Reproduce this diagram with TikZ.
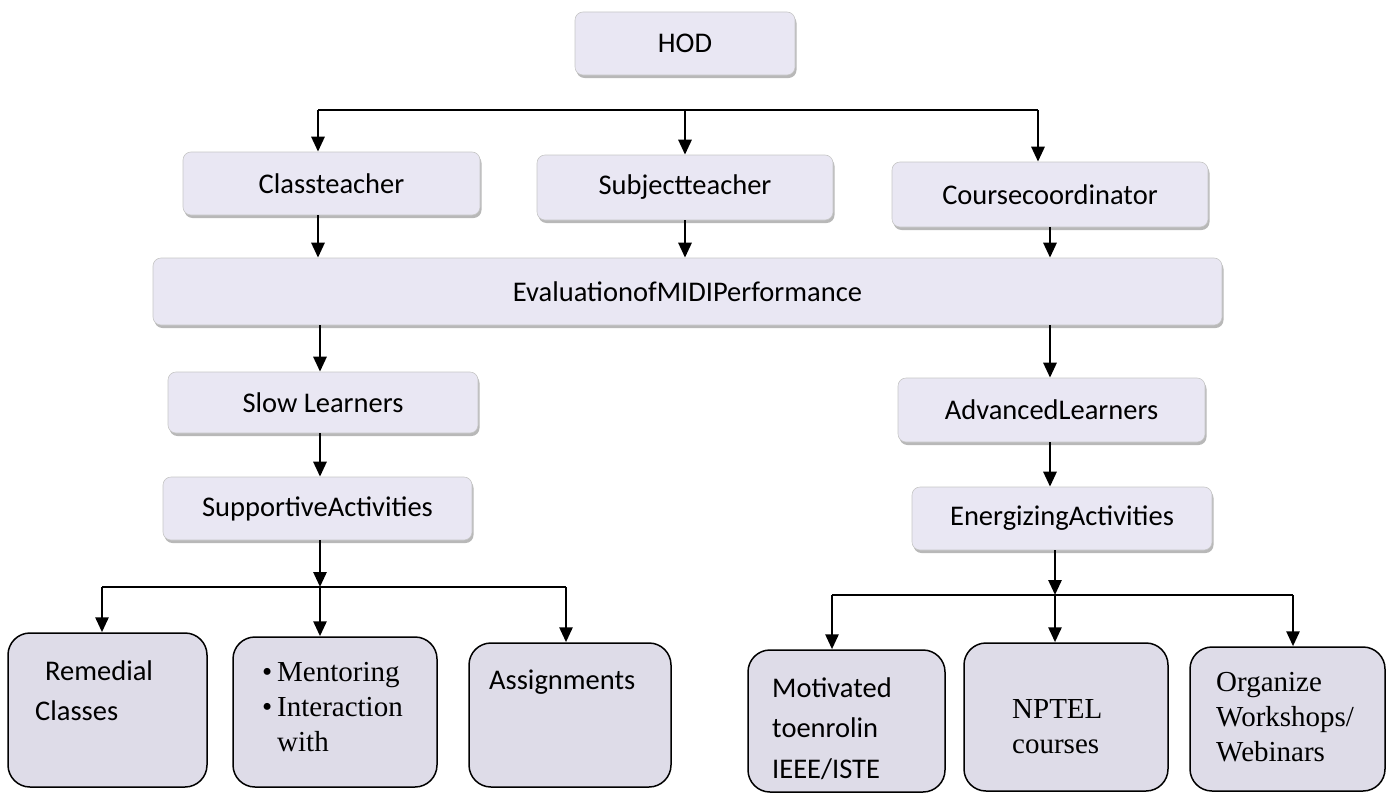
\documentclass[tikz,border=0pt]{standalone}
\usepackage{fontspec}
\setmainfont{Carlito}
\newfontfamily\timesfont{Liberation Serif}
\usetikzlibrary{arrows.meta,shadows}
\definecolor{boxfill}{RGB}{233,231,243}
\definecolor{leaffill}{RGB}{222,220,232}

\begin{document}
\begin{tikzpicture}[x=1pt,y=-1pt,
    box/.style={draw=gray!45, line width=0.6pt, rounded corners=8pt, fill=boxfill,
      drop shadow={shadow xshift=1.5pt, shadow yshift=-3pt, fill=gray!70, opacity=0.8},
      inner sep=0pt, font=\fontsize{28.5}{34}\selectfont},
    leaf/.style={draw=black, line width=1.5pt, rounded corners=22pt, fill=leaffill, inner sep=0pt},
    sanstext/.style={anchor=north west, align=left, inner sep=0pt, font=\fontsize{28.5}{40}\selectfont},
    seriftext/.style={anchor=north west, align=left, inner sep=0pt, font=\timesfont\fontsize{29}{35}\selectfont},
    link/.style={line width=2.8pt},
    arr/.style={link, -{Triangle[length=15pt,width=13pt]}}]
	\useasboundingbox (0,0) rectangle (1388,792);
	
	% Top level
	\node[box, minimum width=220pt, minimum height=63pt] (hod) at (685,43.5) {HOD};
	
	% Teachers
	\node[box, minimum width=297pt, minimum height=63pt] (class) at (331.5,183.5) {Classteacher};
	\node[box, minimum width=296pt, minimum height=65pt] (subj) at (685,187.5) {Subjectteacher};
	\node[box, minimum width=316pt, minimum height=65pt] (course) at (1050,194.5) {Coursecoordinator};
	
	% Evaluation
	\node[box, minimum width=1069pt, minimum height=67pt] (eval) at (687.5,291.5) {EvaluationofMIDIPerformance};
	
	% Learner groups
	\node[box, minimum width=310pt, minimum height=61pt] (slow) at (323,402.5) {Slow Learners};
	\node[box, minimum width=309pt, minimum height=63pt] (supp) at (317.5,508.5) {SupportiveActivities};
	\node[box, minimum width=307pt, minimum height=64pt] (adv) at (1051.5,410) {AdvancedLearners};
	\node[box, minimum width=300pt, minimum height=63pt] (energ) at (1062,518.5) {EnergizingActivities};
	
	% Activities, left
	\node[leaf, minimum width=199pt, minimum height=154pt] (remed) at (107.5,710) {};
	\node[leaf, minimum width=204pt, minimum height=150pt] (mentor) at (335,712) {};
	\node[leaf, minimum width=202pt, minimum height=144pt] (assign) at (570,715) {};
	\node[sanstext] (remedtxt) at (35,661) {\hspace*{10pt}Remedial\\Classes};
	\node[seriftext] (mentortxt) at (262,662) {\textbullet\,Mentoring\\\textbullet\,Interaction\\\phantom{\textbullet\,}with};
	\node[sanstext] (assigntxt) at (489,670) {Assignments};
	
	% Activities, right
	\node[leaf, minimum width=197pt, minimum height=142pt] (motiv) at (846.5,721) {};
	\node[leaf, minimum width=204pt, minimum height=148pt] (nptel) at (1066,717) {};
	\node[leaf, minimum width=195pt, minimum height=144pt] (organ) at (1287.5,719) {};
	\node[sanstext] (motivtxt) at (772,678) {Motivated\\toenrolin\\IEEE/ISTE};
	\node[seriftext] (npteltxt) at (1012,699) {NPTEL\\courses};
	\node[seriftext] (organtxt) at (1216,672) {Organize\\Workshops/\\Webinars};
	
	% Branch points
	\coordinate (busL) at (318,110);
	\coordinate (busM) at (685,110);
	\coordinate (busR) at (1038,110);
	\coordinate (leftA) at (102,587);
	\coordinate (leftM) at (320,587);
	\coordinate (leftB) at (566,587);
	\coordinate (rightA) at (832,595);
	\coordinate (rightM) at (1055,595);
	\coordinate (rightB) at (1293,595);
	
	% HOD bus to teachers
	\draw[link] (busL) -- (busR);
	\draw[arr] (busL) -- (busL |- class.north);
	\draw[arr] (busM) -- (busM |- subj.north);
	\draw[arr] (busR) -- (busR |- course.north);
	
	% Teachers to evaluation
	\draw[arr] (class.south -| busL) -- (eval.north -| busL);
	\draw[arr] (subj.south -| busM) -- (eval.north -| busM);
	\draw[arr] (eval.north -| adv.north) ++(-1.5,0) coordinate (cc) (course.south -| cc) -- (cc);
	
	% Evaluation to learner groups
	\draw[arr] (eval.south -| leftM) -- (slow.north -| leftM);
	\draw[arr] (slow.south -| leftM) -- (supp.north -| leftM);
	\draw[arr] (eval.south -| cc) -- (adv.north -| cc);
	\draw[arr] (adv.south -| cc) -- (energ.north -| cc);
	
	% Supportive activities
	\draw[arr] (supp.south -| leftM) -- (leftM);
	\draw[link] (leftA) -- (leftB);
	\draw[arr] (leftA) -- (leftA |- remed.north);
	\draw[arr] (leftM) -- (leftM |- mentor.north);
	\draw[arr] (leftB) -- (leftB |- assign.north);
	
	% Energizing activities
	\draw[arr] (energ.south -| rightM) -- (rightM);
	\draw[link] (rightA) -- (rightB);
	\draw[arr] (rightA) -- (rightA |- motiv.north);
	\draw[arr] (rightM) -- (rightM |- nptel.north);
	\draw[arr] (rightB) -- (rightB |- organ.north);
\end{tikzpicture}
\end{document}
